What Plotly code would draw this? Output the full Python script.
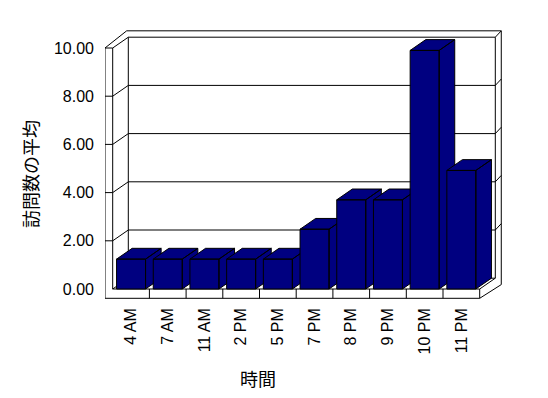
import plotly.graph_objects as go

# ---- data ----
categories = ["4 AM", "7 AM", "11 AM", "2 PM", "5 PM", "7 PM", "8 PM", "9 PM", "10 PM", "11 PM"]
values = [1.24, 1.24, 1.24, 1.24, 1.24, 2.48, 3.70, 3.70, 9.90, 4.92]
y_ticks = [0, 2, 4, 6, 8, 10]
x_title = "時間"
y_title = "訪問数の平均"

# ---- geometry (data units) ----
N = len(categories)
YMAX = y_ticks[-1]
DX, DY = 0.425, 0.448      # depth of the 3-D box
WT = 0.21                  # left wall thickness
FT = 0.386                 # floor thickness
BX, BY = 0.163, 0.265      # back wall thickness
BAR_W = 0.79
NAVY = "#000080"

# pixel layout
W, H = 548, 398
L, R, T, B = 105, 510, 25, 300
SX, SY = 36.7, 24.1        # px per data unit
X0PX, Y0PX = 112.7, 289.0  # px of (-0.5, 0)
xr = [-0.5 - (X0PX - L) / SX, -0.5 + (R - X0PX) / SX]
yr = [-(B - Y0PX) / SY, (Y0PX - T) / SY]

fig = go.Figure()

# ---- frame (walls, floor, gridlines) ----
fx, fy = [], []
def seg(p, q):
    fx.extend([p[0], q[0], None])
    fy.extend([p[1], q[1], None])

x0, x1 = -0.5, N - 0.5
xlo = x0 + DX - 0.044
seg((x0 - WT, -FT), (x0 - WT, YMAX))
seg((x0, 0), (x0, YMAX))
seg((x0 - WT, YMAX), (x0, YMAX))
seg((x0 - WT, YMAX), (xlo, YMAX + DY + BY))
seg((x0, YMAX), (x0 + DX, YMAX + DY))
seg((x0 + DX, DY), (x0 + DX, YMAX + DY))
seg((x0 + DX, YMAX + DY), (x1 + DX, YMAX + DY))
seg((xlo, YMAX + DY + BY), (x1 + DX + BX, YMAX + DY + BY))
seg((x1 + DX, DY), (x1 + DX, YMAX + DY))
seg((x1 + DX + BX, DY - BY), (x1 + DX + BX, YMAX + DY + BY))
seg((x1 + DX, YMAX + DY), (x1 + DX + BX, YMAX + DY + BY))
for v in y_ticks[1:-1]:
    seg((x0 - WT, v), (x0, v))
    seg((x0, v), (x0 + DX, v + DY))
    seg((x0 + DX, v + DY), (x1 + DX, v + DY))
    seg((x1 + DX, v + DY), (x1 + DX + BX, v + DY + BY))
seg((x0, 0), (x0 + DX, DY))
seg((x0 + DX, DY), (x1 + DX, DY))
seg((x0, 0), (x1, 0))
seg((x0 - WT, -FT), (x1, -FT))
seg((x1, -FT), (x1, 0))
seg((x1, 0), (x1 + DX, DY))
seg((x1, -FT), (x1 + DX + BX, DY - BY))
for k in range(1, N):
    seg((x0 + k, 0), (x0 + k, -FT))

fig.add_trace(go.Scatter(x=fx, y=fy, mode="lines", line=dict(color="black", width=1),
                         hoverinfo="skip", showlegend=False))

# ---- 3-D bars ----
for i, v in enumerate(values):
    a, b = i - BAR_W / 2, i + BAR_W / 2
    px = [a, b, b, b, b + DX, b + DX, b, b + DX, a + DX, a, b, a, a]
    py = [0, 0, v, 0, DY, v + DY, v, v + DY, v + DY, v, v, v, 0]
    fig.add_trace(go.Scatter(x=px, y=py, mode="lines", fill="toself", fillcolor=NAVY,
                             line=dict(color="black", width=1), hoverinfo="skip",
                             showlegend=False, name=categories[i]))

tick_font = dict(family="Liberation Sans, Arial, sans-serif", size=16, color="black")
fig.update_layout(
    width=W, height=H,
    margin=dict(l=L, r=W - R, t=T, b=H - B),
    paper_bgcolor="white", plot_bgcolor="white",
    showlegend=False, hovermode=False,
    xaxis=dict(range=xr, tickvals=list(range(N)), ticktext=categories, tickangle=-90,
               showgrid=False, zeroline=False, showline=False, ticks="",
               tickfont=tick_font, ticklabelstandoff=4, fixedrange=True),
    yaxis=dict(range=yr, tickvals=y_ticks, tickformat=".2f",
               showgrid=False, zeroline=False, showline=False, ticks="",
               tickfont=tick_font, ticklabelstandoff=10, fixedrange=True),
    annotations=[
        dict(text=y_title, xref="paper", yref="paper", x=(30 - L) / (R - L), y=(B - 174) / (B - T),
             textangle=-90, showarrow=False, xanchor="center", yanchor="middle",
             font=dict(family="Noto Sans CJK JP", size=18, color="black")),
        dict(text=x_title, xref="paper", yref="paper", x=(258 - L) / (R - L), y=(B - 378) / (B - T),
             showarrow=False, xanchor="center", yanchor="middle",
             font=dict(family="Noto Sans CJK JP", size=18, color="black")),
    ],
)

fig.write_html("out.html")
